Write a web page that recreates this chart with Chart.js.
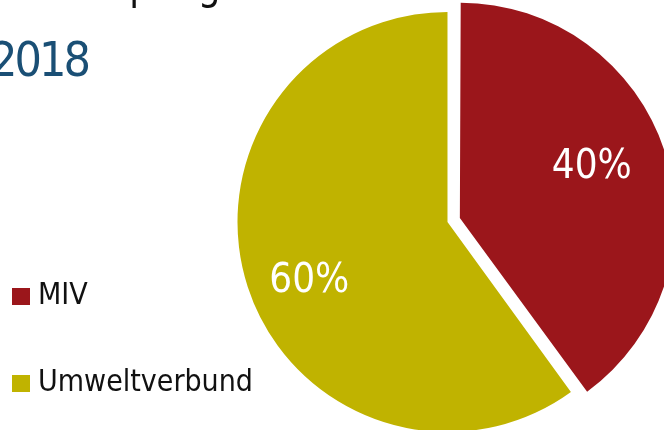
<!DOCTYPE html>
<html>
<head>
<meta charset="utf-8">
<script src="https://cdn.jsdelivr.net/npm/chart.js@4"></script>
<style>
  html, body { margin: 0; padding: 0; background: #fff; overflow: hidden; }
  #wrap { position: relative; width: 664px; height: 430px; overflow: hidden; }
  /* the slide is cropped: canvas sticks out left and top */
  #myChart { position: absolute; left: -38px; top: -11px; }
</style>
</head>
<body>
<div id="wrap"><canvas id="myChart" width="702" height="466"></canvas></div>
<script>
// data
const categories = ['MIV', 'Umweltverbund'];
const shares = [40, 60];
const sliceColors = ['#9b161b', '#c0b300'];
const titleLines = ['Modal Split gesamt', '2018'];

const FONT = '"DejaVu Sans Condensed", "DejaVu Sans", sans-serif';
const SHIFT_X = 38, SHIFT_Y = 11;  // canvas offset vs. page

// little square swatch for the legend
function swatch(color) {
  const c = document.createElement('canvas');
  c.width = 18;
  c.height = 17;
  const g = c.getContext('2d');
  g.fillStyle = color;
  g.fillRect(0, 0, 18, 17);
  return c;
}

// title, mostly cut off at the top like in the original slide
const titlePlugin = {
  id: 'slideTitle',
  afterDraw(chart) {
    const ctx = chart.ctx;
    ctx.save();
    ctx.translate(SHIFT_X, SHIFT_Y);
    ctx.textBaseline = 'alphabetic';
    ctx.textAlign = 'left';
    ctx.fillStyle = '#111';
    ctx.font = '40px ' + FONT;
    ctx.fillText(titleLines[0], -13, -1);
    ctx.fillStyle = '#1a4f75';
    ctx.font = '48px ' + FONT;
    ctx.letterSpacing = '-3px';
    ctx.fillText(titleLines[1], -10, 76);
    ctx.restore();
  }
};

// percentage labels inside the slices
const pctLabels = {
  id: 'pctLabels',
  afterDatasetsDraw(chart) {
    const ctx = chart.ctx;
    const meta = chart.getDatasetMeta(0);
    ctx.save();
    ctx.fillStyle = '#fff';
    ctx.font = '40px ' + FONT;
    ctx.textAlign = 'center';
    ctx.textBaseline = 'alphabetic';
    meta.data.forEach((arc, i) => {
      const p = arc.getProps(['x', 'y', 'startAngle', 'endAngle', 'outerRadius'], true);
      const off = (arc.options.offset || 0) / 4;
      const mid = (p.startAngle + p.endAngle) / 2 - 0.07;
      const r = off * 0.5 + p.outerRadius * 0.71;
      ctx.fillText(shares[i] + '%', p.x + Math.cos(mid) * r, p.y + Math.sin(mid) * r + 14.5);
    });
    ctx.restore();
  }
};

new Chart(document.getElementById('myChart'), {
  type: 'pie',
  data: {
    labels: categories,
    datasets: [{
      data: shares,
      backgroundColor: sliceColors,
      borderWidth: 0,
      offset: [52, 0],
      radius: 210,
      clip: false
    }]
  },
  options: {
    responsive: false,
    animation: false,
    layout: {
      padding: { left: 0, right: 32, top: 0, bottom: 0 }
    },
    plugins: {
      tooltip: { enabled: false },
      title: { display: false },
      legend: {
        position: 'left',
        align: 'end',
        labels: {
          usePointStyle: true,
          pointStyleWidth: 4,
          boxHeight: 17,
          padding: 57,
          color: '#111',
          font: { family: FONT, size: 30 },
          generateLabels: () => categories.map((text, i) => ({
            text: text,
            fillStyle: sliceColors[i],
            strokeStyle: sliceColors[i],
            lineWidth: 0,
            pointStyle: swatch(sliceColors[i]),
            fontColor: '#111',
            hidden: false,
            index: i
          }))
        }
      }
    }
  },
  plugins: [pctLabels, titlePlugin]
});
</script>
</body>
</html>
